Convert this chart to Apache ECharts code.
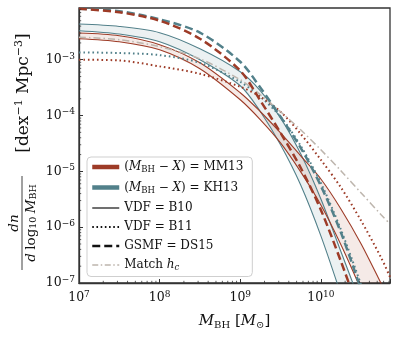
<!DOCTYPE html>
<html>
<head>
<meta charset="utf-8">
<script src="https://cdn.jsdelivr.net/npm/echarts@6/dist/echarts.min.js"></script>
<style>html,body{margin:0;padding:0;background:#fff}#chart{width:399px;height:339px}</style>
</head>
<body>
<div id="chart"></div>
<script>
// black hole mass grid [M_sun]
const mass = [1e7, 3.16e7, 1e8, 3.16e8, 1e9, 1.78e9, 3.16e9, 5.62e9, 1e10, 1.78e10, 3.16e10, 5.62e10, 7.2e10];

// VDF = B10 bands (upper / lower bound)
const mm13B10Hi = [3.01e-3, 2.69e-3, 1.86e-3, 8.8e-4, 2.56e-4, 1.17e-4, 4.9e-5, 1.9e-5, 7.3e-6, 2.1e-6, 5.0e-7, 9.6e-8, 4.6e-8];
const mm13B10Lo = [2.38e-3, 2.1e-3, 1.51e-3, 6.9e-4, 1.92e-4, 8.4e-5, 3.24e-5, 9.8e-6, 2.5e-6, 4.8e-7, 7.5e-8];
const kh13B10Hi = [4.36e-3, 3.95e-3, 3.05e-3, 1.57e-3, 6.1e-4, 2.78e-4, 9.1e-5, 2.06e-5, 3.2e-6, 3.6e-7, 4.0e-8];
const kh13B10Lo = [3.31e-3, 2.89e-3, 2.1e-3, 1.0e-3, 3.42e-4, 1.17e-4, 3.0e-5, 5.7e-6, 7.0e-7, 6.1e-8];
// VDF = B11
const mm13B11 = [1.0e-3, 9.7e-4, 7.6e-4, 5.6e-4, 3.28e-4, 2.17e-4, 1.17e-4, 4.7e-5, 1.61e-5, 5.1e-6, 1.3e-6, 2.8e-7, 1.28e-7];
const kh13B11 = [1.35e-3, 1.32e-3, 1.21e-3, 8.8e-4, 4.0e-4, 2.17e-4, 9.5e-5, 2.87e-5, 6.2e-6, 8.9e-7, 9.2e-8];
// GSMF = DS15
const mm13DS15 = [8.2e-3, 7.1e-3, 5.0e-3, 2.38e-3, 6.35e-4, 1.84e-4, 4.9e-5, 1.16e-5, 2.04e-6, 2.4e-7, 2.4e-8];
const kh13DS15 = [8.2e-3, 7.4e-3, 5.3e-3, 3.05e-3, 9.2e-4, 3.15e-4, 9.5e-5, 2.64e-5, 5.5e-6, 7.9e-7, 7.5e-8];
// match h_c
const matchHc = [2.54e-3, 2.29e-3, 1.71e-3, 1.04e-3, 4.38e-4, 2.36e-4, 1.17e-4, 5.55e-5, 2.43e-5, 1.02e-5, 4.1e-6, 1.66e-6, 1.14e-6];

const xRange = [1e7, 7.2e10];
const yRange = [1e-7, 8.45e-3];

const RED = '#9d3b27', BLUE = '#52808a', GRAY = '#bdb5ad', AXIS = '#333';
const FONT = 'DejaVu Serif';

const pairs = ys => ys.map((v, i) => [mass[i], v]);

// minor tick positions 2..9 x 10^k inside each range
function minorTicks(lo, hi) {
    const out = [];
    for (let e = Math.floor(Math.log10(lo)); e <= Math.ceil(Math.log10(hi)); e++) {
        for (let m = 2; m <= 9; m++) { const v = m * Math.pow(10, e); if (v > lo && v < hi) out.push(v); }
    }
    return out;
}

function lineSeries(name, ys, color, width, type) {
    return { name, type: 'line', data: pairs(ys), symbol: 'none', smooth: 0.3,
        clip: true, silent: true, z: 3, lineStyle: { color, width, type, cap: 'butt' } };
}

function bandSeries(hi, lo, fill) {
    return {
        type: 'custom', silent: true, clip: true, z: 1, data: [[1e9, 1e-4]],
        renderItem: (params, api) => {
            const top = hi.map((v, i) => api.coord([mass[i], v]));
            const bot = lo.map((v, i) => api.coord([mass[i], v])).reverse();
            return { type: 'polygon', shape: { points: top.concat(bot) }, style: { fill } };
        }
    };
}

function tickSeries(vals, axis) {
    return {
        type: 'custom', silent: true, clip: false, z: 5,
        data: vals.map(v => axis === 'x' ? [v, yRange[0]] : [xRange[0], v]),
        renderItem: (params, api) => {
            const p = api.coord([api.value(0), api.value(1)]);
            const shape = axis === 'x' ? { x1: p[0], y1: p[1], x2: p[0], y2: p[1] - 2.2 }
                                       : { x1: p[0], y1: p[1], x2: p[0] + 2.2, y2: p[1] };
            return { type: 'line', shape, style: { stroke: AXIS, lineWidth: 0.8 } };
        }
    };
}

// legend-only entries
const legendSeries = [
    { name: 'MM13', lineStyle: { color: RED, width: 4.5 } },
    { name: 'KH13', lineStyle: { color: BLUE, width: 4.5 } },
    { name: 'B10', lineStyle: { color: '#111', width: 1.2 } },
    { name: 'B11', lineStyle: { color: '#111', width: 2, type: [1.6, 2.6] } },
    { name: 'DS15', lineStyle: { color: '#111', width: 2.6, type: [8, 4] } },
    { name: 'hc', lineStyle: { color: GRAY, width: 1.3, type: [6, 2.5, 1.5, 2.5] } }
].map(s => ({ ...s, type: 'line', data: [], symbol: 'none', itemStyle: { color: s.lineStyle.color } }));

const legendText = {
    MM13: '({i|M}{sub|BH} − {i|X}) = MM13',
    KH13: '({i|M}{sub|BH} − {i|X}) = KH13',
    B10: 'VDF = B10',
    B11: 'VDF = B11',
    DS15: 'GSMF = DS15',
    hc: 'Match {i|h}{isub|c}'
};

const powLabel = v => {
    const e = Math.log10(v);
    if (Math.abs(e - Math.round(e)) > 0.01) return '';
    return `{n|10}{e|${Math.round(e) < 0 ? '−' + (-Math.round(e)) : Math.round(e)}}`;
};
const tickRich = { n: { fontFamily: FONT, fontSize: 12.5, color: '#111' }, e: { fontFamily: FONT, fontSize: 9, color: '#111', padding: [0, 0, 7, 0] } };

const chart = echarts.init(document.getElementById('chart'), null, { renderer: 'canvas' });
chart.setOption({
    animation: false,
    backgroundColor: '#fff',
    grid: { left: 79, right: 9, top: 8, bottom: 56, show: true, borderColor: AXIS, borderWidth: 1.3, backgroundColor: 'transparent' },
    xAxis: {
        type: 'log', logBase: 10, min: xRange[0], max: xRange[1],
        axisLine: { lineStyle: { color: AXIS, width: 1.3 } },
        axisTick: { inside: true, length: 4, lineStyle: { color: AXIS, width: 1 } },
        splitLine: { show: false },
        axisLabel: { margin: 7, formatter: powLabel, rich: tickRich },
        name: '{i|M}{sub|BH} [{i|M}{sub|⊙}]', nameLocation: 'middle', nameGap: 29,
        nameTextStyle: { fontFamily: FONT, fontSize: 15, color: '#111',
            rich: { i: { fontFamily: FONT, fontStyle: 'italic', fontSize: 15 }, sub: { fontFamily: FONT, fontSize: 10, padding: [8, 0, 0, 0] } } }
    },
    yAxis: {
        type: 'log', logBase: 10, min: yRange[0], max: yRange[1],
        axisLine: { lineStyle: { color: AXIS, width: 1.3 } },
        axisTick: { inside: true, length: 4, lineStyle: { color: AXIS, width: 1 } },
        splitLine: { show: false },
        axisLabel: { margin: 4, formatter: powLabel, rich: tickRich }
    },
    legend: {
        data: legendSeries.map(s => s.name),
        orient: 'vertical', left: 87, top: 157,
        itemWidth: 27, itemHeight: 14, itemGap: 7,
        padding: [4, 9, 4, 3],
        backgroundColor: 'rgba(255,255,255,0.85)', borderColor: '#cfcfcf', borderWidth: 1, borderRadius: 4,
        selectedMode: false,
        itemStyle: { opacity: 0 },
        lineStyle: { width: 'inherit' },
        formatter: name => legendText[name],
        textStyle: { fontFamily: FONT, fontSize: 12, color: '#111',
            rich: { i: { fontFamily: FONT, fontStyle: 'italic', fontSize: 12 }, sub: { fontFamily: FONT, fontSize: 8.5, padding: [6, 0, 0, 0] },
                    isub: { fontFamily: FONT, fontStyle: 'italic', fontSize: 8.5, padding: [6, 0, 0, 0] } } }
    },
    graphic: [{
        type: 'group', x: 22, y: 150, rotation: Math.PI / 2,
        children: [
            { type: 'text', x: -73, y: -1, style: { text: '{i|dn}', align: 'center', verticalAlign: 'bottom',
                rich: { i: { fontFamily: FONT, fontStyle: 'italic', fontSize: 13.5, fill: '#111' } } } },
            { type: 'line', shape: { x1: -120, y1: 0, x2: -26, y2: 0 }, style: { stroke: '#111', lineWidth: 0.8 } },
            { type: 'text', x: -73, y: 1, style: { text: '{i|d} {r|log}{s|10} {i|M}{s|BH}', align: 'center', verticalAlign: 'top',
                rich: { i: { fontFamily: FONT, fontStyle: 'italic', fontSize: 13.5, fill: '#111' }, r: { fontFamily: FONT, fontSize: 13.5, fill: '#111' },
                        s: { fontFamily: FONT, fontSize: 9.5, fill: '#111', padding: [6, 0, 0, 0] } } } },
            { type: 'text', x: 57, y: 2, style: { text: '[dex{e|−1} Mpc{e|−3}]', align: 'center', verticalAlign: 'middle',
                fontFamily: FONT, fontSize: 17, fill: '#111',
                rich: { e: { fontFamily: FONT, fontSize: 11, fill: '#111', padding: [0, 0, 9, 0] } } } }
        ]
    }],
    series: [
        bandSeries(kh13B10Hi, kh13B10Lo, 'rgba(82,128,138,0.11)'),
        bandSeries(mm13B10Hi, mm13B10Lo, 'rgba(170,80,60,0.12)'),
        lineSeries('kh13B10Hi', kh13B10Hi, BLUE, 1.1),
        lineSeries('kh13B10Lo', kh13B10Lo, BLUE, 1.1),
        lineSeries('mm13B10Hi', mm13B10Hi, RED, 1.1),
        lineSeries('mm13B10Lo', mm13B10Lo, RED, 1.1),
        lineSeries('kh13B11', kh13B11, BLUE, 2, [1.6, 2.9]),
        lineSeries('mm13B11', mm13B11, RED, 2, [1.6, 2.9]),
        lineSeries('matchHc', matchHc, GRAY, 1.5, [7, 3, 1.5, 3]),
        lineSeries('kh13DS15', kh13DS15, BLUE, 2.5, [8, 4]),
        lineSeries('mm13DS15', mm13DS15, RED, 2.5, [8, 4]),
        tickSeries(minorTicks(xRange[0], xRange[1]), 'x'),
        tickSeries(minorTicks(yRange[0], yRange[1]), 'y'),
        ...legendSeries
    ]
});
</script>
</body>
</html>
